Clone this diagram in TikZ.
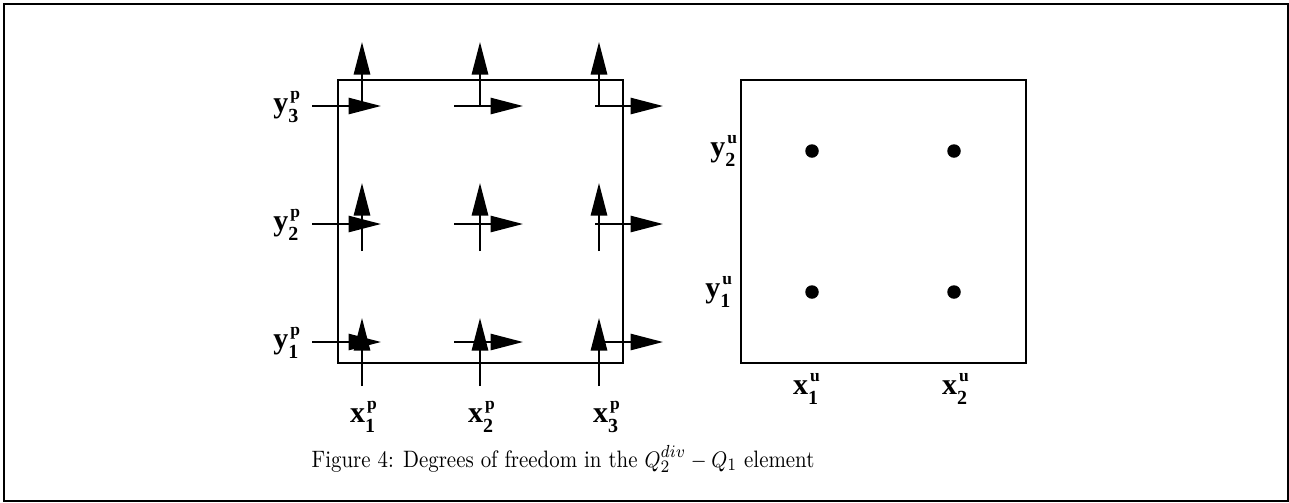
\documentclass[tikz,border=0pt]{standalone}
\usepackage{graphicx}
\usepackage{fontspec}
\newfontfamily\lblfont{Liberation Serif}
\usetikzlibrary{arrows.meta}
\newcommand{\doflabel}[3]{{\fontsize{12}{13}\selectfont #1}\makebox[0pt][l]{\raisebox{-4pt}{\fontsize{8}{9}\selectfont #2}}\raisebox{5pt}{\fontsize{7}{8}\selectfont\kern0.8pt #3}}

\begin{document}
\begin{tikzpicture}[x=0.4pt, y=-0.4pt, line width=0.8pt,
    dofarrow/.style={-{Triangle[length=13pt, width=6.5pt]}},
    lbl/.style={font=\lblfont\bfseries, inner sep=0pt}]
    \useasboundingbox (0,0) rectangle (1289,502);
    \draw[line width=1.1pt] (4,4) rectangle (1288,501);

    % Pressure element
    \draw (338,80) rectangle (623,363);

    % x-components
    \draw[dofarrow] (312,342) -- (381,342);
    \draw[dofarrow] (454,342) -- (523,342);
    \draw[dofarrow] (595,342) -- (663,342);
    \draw[dofarrow] (312,224) -- (381,224);
    \draw[dofarrow] (454,224) -- (523,224);
    \draw[dofarrow] (595,224) -- (663,224);
    \draw[dofarrow] (312,106) -- (381,106);
    \draw[dofarrow] (454,106) -- (523,106);
    \draw[dofarrow] (595,106) -- (663,106);

    % y-components
    \draw[dofarrow] (362,386) -- (362,318);
    \draw[dofarrow] (480,386) -- (480,318);
    \draw[dofarrow] (599,386) -- (599,318);
    \draw[dofarrow] (362,251) -- (362,183);
    \draw[dofarrow] (480,251) -- (480,183);
    \draw[dofarrow] (599,251) -- (599,183);
    \draw[dofarrow] (362,103) -- (362,42);
    \draw[dofarrow] (480,107) -- (480,42);
    \draw[dofarrow] (599,107) -- (599,42);

    \node[lbl, anchor=base east] (ly3p) at (301,112) {\doflabel{y}{3}{p}};
    \node[lbl, anchor=base east] (ly2p) at (301,230) {\doflabel{y}{2}{p}};
    \node[lbl, anchor=base east] (ly1p) at (301,348) {\doflabel{y}{1}{p}};
    \node[lbl, anchor=base west] (lx1p) at (349,422) {\doflabel{x}{1}{p}};
    \node[lbl, anchor=base west] (lx2p) at (467,422) {\doflabel{x}{2}{p}};
    \node[lbl, anchor=base west] (lx3p) at (592,422) {\doflabel{x}{3}{p}};

    % Velocity element
    \draw (741,80) rectangle (1026,363);
    \fill (812,151) circle[radius=2.7pt];
    \fill (954,151) circle[radius=2.7pt];
    \fill (812,292) circle[radius=2.7pt];
    \fill (954,292) circle[radius=2.7pt];

    \node[lbl, anchor=base east] (ly2u) at (738,156) {\doflabel{y}{2}{u}};
    \node[lbl, anchor=base east] (ly1u) at (733,297) {\doflabel{y}{1}{u}};
    \node[lbl, anchor=base west] (lx1u) at (792,394) {\doflabel{x}{1}{u}};
    \node[lbl, anchor=base west] (lx2u) at (941,394) {\doflabel{x}{2}{u}};

    \node[anchor=base, font=\fontsize{9.5}{11}\selectfont] (caption) at (563,467)
        {\scalebox{0.88}[1]{Figure 4: Degrees of freedom in the $Q_2^{div} - Q_1$ element}};
\end{tikzpicture}
\end{document}
